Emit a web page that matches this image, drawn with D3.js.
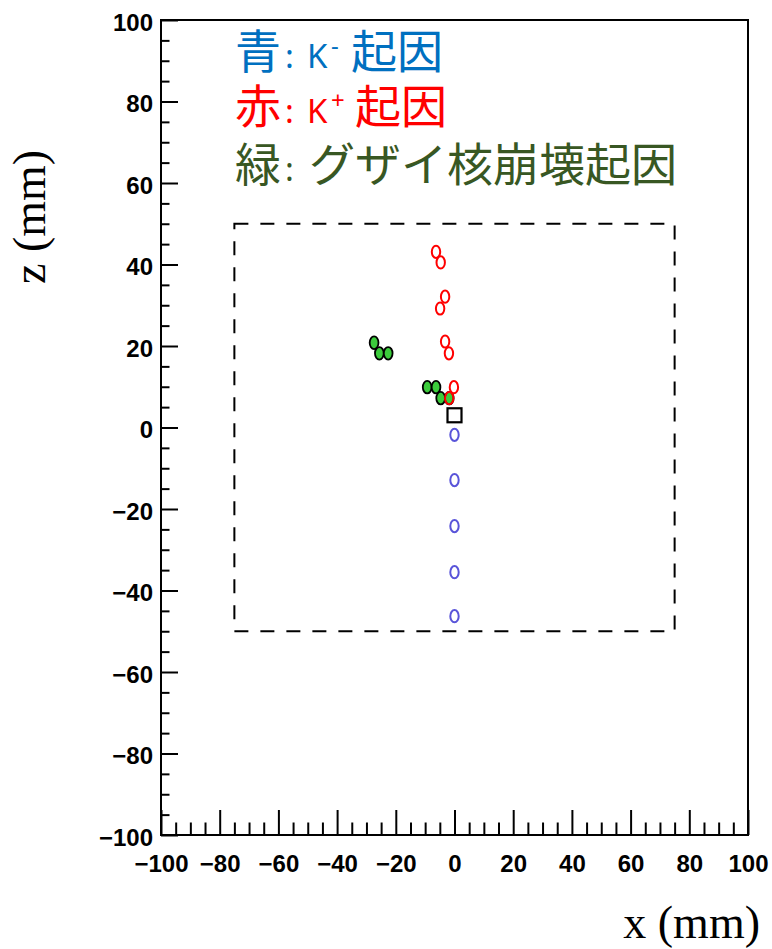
<!DOCTYPE html>
<html><head><meta charset="utf-8">
<script src="https://cdn.jsdelivr.net/npm/d3@7"></script>
<style>html,body{margin:0;padding:0;background:#fff;}svg{display:block;}</style>
</head><body>
<svg id="c" width="772" height="949"></svg>
<script>
// ---- data ----
const xDomain = [-100, 100];
const zDomain = [-100, 100];
const majorTicks = [-100, -80, -60, -40, -20, 0, 20, 40, 60, 80, 100];
const minorTicks = d3.range(-100, 100.1, 5).filter(v => v % 20 !== 0);
const boxX = [-75, 75];
const boxZ = [-50, 50];
const blueX = [0, 0, 0, 0, 0];
const blueZ = [-1.8, -12.9, -24.2, -35.5, -46.3];
const redX = [-6.3, -4.7, -3.2, -4.9, -3.2, -1.9, -0.2, -1.8];
const redZ = [43.1, 40.5, 32.1, 29.2, 21.1, 18.2, 9.9, 7.2];
const greenX = [-27.4, -25.6, -22.6, -9.3, -6.3, -4.7, -1.8];
const greenZ = [20.8, 18.2, 18.2, 9.9, 9.9, 7.2, 7.2];
const vertexX = [0];
const vertexZ = [3];
const xTitle = "x (mm)";
const zTitle = "z (mm)";
const legendColors = ["#0070C0", "#FF0000", "#385723"];
const legendLines = [
  [["cjk","青"],["lat",":"],["lat","K"],["sup","-"],["cjk","起因"]],
  [["cjk","赤"],["lat",":"],["lat","K"],["sup","+"],["cjk","起因"]],
  [["cjk","緑"],["lat",":"],["cjk","グザイ核崩壊起因"]]
];

// ---- layout ----
const L = 161, R = 748, T = 20, B = 835;
const x = d3.scaleLinear().domain(xDomain).range([L, R]);
const y = d3.scaleLinear().domain(zDomain).range([B, T]);
const svg = d3.select("#c");
const fmt = d => d < 0 ? "\u2212" + Math.abs(d) : String(d);

// frame
svg.append("rect").attr("x", L).attr("y", T).attr("width", R - L).attr("height", B - T)
  .attr("fill", "none").attr("stroke", "#000").attr("stroke-width", 2);

function styleAxis(g) {
  g.select(".domain").remove();
  g.selectAll("line").attr("stroke", "#000").attr("stroke-width", 2);
}
svg.append("g").attr("transform", `translate(0,${B})`)
  .call(d3.axisBottom(x).tickValues(majorTicks).tickSize(-25).tickFormat("")).call(styleAxis);
svg.append("g").attr("transform", `translate(0,${B})`)
  .call(d3.axisBottom(x).tickValues(minorTicks).tickSize(-12.5).tickFormat("")).call(styleAxis);
svg.append("g").attr("transform", `translate(${L},0)`)
  .call(d3.axisLeft(y).tickValues(majorTicks).tickSize(-17).tickFormat("")).call(styleAxis);
svg.append("g").attr("transform", `translate(${L},0)`)
  .call(d3.axisLeft(y).tickValues(minorTicks).tickSize(-8.5).tickFormat("")).call(styleAxis);

const gxl = svg.append("g").attr("transform", `translate(0,${B})`)
  .call(d3.axisBottom(x).tickValues(majorTicks).tickSize(0).tickPadding(20).tickFormat(fmt));
gxl.select(".domain").remove();
gxl.selectAll("text").attr("font-family", "'Liberation Sans', Arial, sans-serif")
  .attr("font-weight", "bold").attr("font-size", 24).attr("fill", "#000");
const gyl = svg.append("g").attr("transform", `translate(${L},0)`)
  .call(d3.axisLeft(y).tickValues(majorTicks).tickSize(0).tickPadding(8).tickFormat(fmt));
gyl.select(".domain").remove();
gyl.selectAll("text").attr("font-family", "'Liberation Sans', Arial, sans-serif")
  .attr("font-weight", "bold").attr("font-size", 24).attr("fill", "#000").attr("dy", "0.42em");

svg.append("text").attr("x", 760).attr("y", 938).attr("text-anchor", "end")
  .attr("font-family", "'Liberation Serif', 'Times New Roman', serif").attr("font-size", 46)
  .text(xTitle);
svg.append("text").attr("transform", "translate(45,284) rotate(-90)").attr("text-anchor", "start")
  .attr("font-family", "'Liberation Serif', 'Times New Roman', serif").attr("font-size", 46)
  .text(zTitle);

// dashed box
svg.append("rect").attr("x", x(boxX[0])).attr("y", y(boxZ[1]))
  .attr("width", x(boxX[1]) - x(boxX[0])).attr("height", y(boxZ[0]) - y(boxZ[1]))
  .attr("fill", "none").attr("stroke", "#000").attr("stroke-width", 2)
  .attr("stroke-dasharray", "14,12");

// markers
const rx = 4.2, ry = 6.1;
function pts(xs, zs) { return xs.map((v, i) => ({x: v, z: zs[i]})); }
svg.append("g").selectAll("ellipse").data(pts(blueX, blueZ)).join("ellipse")
  .attr("cx", d => x(d.x)).attr("cy", d => y(d.z)).attr("rx", rx).attr("ry", ry)
  .attr("fill", "none").attr("stroke", "#5954d9").attr("stroke-width", 2);
svg.append("g").selectAll("ellipse").data(pts(greenX, greenZ)).join("ellipse")
  .attr("cx", d => x(d.x)).attr("cy", d => y(d.z)).attr("rx", rx + 0.2).attr("ry", ry + 0.2)
  .attr("fill", "#3ccc3c").attr("stroke", "#000").attr("stroke-width", 1.8);
svg.append("g").selectAll("ellipse").data(pts(redX, redZ)).join("ellipse")
  .attr("cx", d => x(d.x)).attr("cy", d => y(d.z)).attr("rx", rx).attr("ry", ry)
  .attr("fill", "none").attr("stroke", "#ff0000").attr("stroke-width", 2);
svg.append("g").selectAll("rect").data(pts(vertexX, vertexZ)).join("rect")
  .attr("x", d => x(d.x) - 7).attr("y", d => y(d.z) - 7).attr("width", 14).attr("height", 14)
  .attr("fill", "none").attr("stroke", "#000").attr("stroke-width", 2.2);

// legend: each segment is its own text element
const baselines = [68, 123, 181];
const segX = [
  [235, 285, 307, 331, 351],
  [235, 285, 307, 331, 355],
  [235, 285, 309]
];
const fonts = {
  cjk: {family: "'Noto Sans CJK JP', sans-serif", size: 46},
  lat: {family: "'Noto Sans', sans-serif", size: 33},
  sup: {family: "'Noto Sans', sans-serif", size: 24}
};
legendLines.forEach((ln, i) => {
  ln.forEach((p, j) => {
    const f = fonts[p[0]];
    svg.append("text").attr("x", segX[i][j])
      .attr("y", baselines[i] - (p[0] === "sup" ? 14 : 0))
      .attr("fill", legendColors[i])
      .attr("font-family", f.family).attr("font-size", f.size)
      .text(p[1]);
  });
});
</script>
</body></html>
